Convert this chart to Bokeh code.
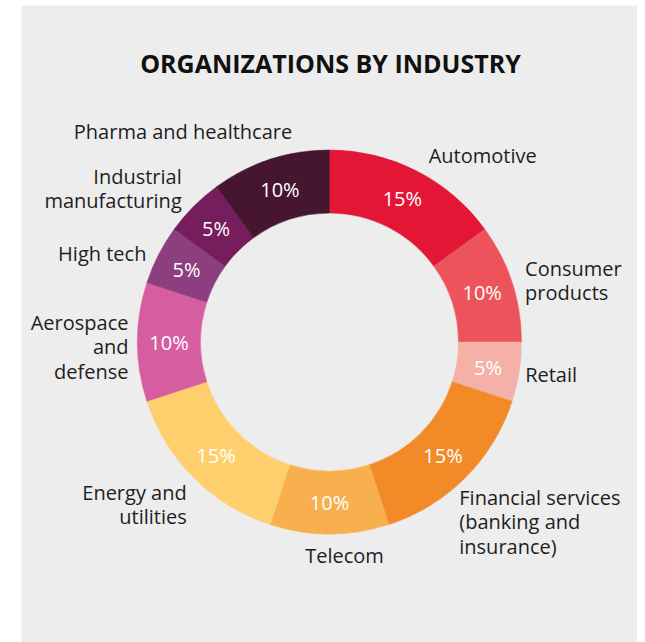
import numpy as np
from bokeh.plotting import figure
from bokeh.models import Range1d, ColumnDataSource
from bokeh.core.properties import value
from bokeh.embed import file_html
from bokeh.resources import INLINE

# ---- data ----
categories = ["Automotive", "Consumer\nproducts", "Retail",
              "Financial services\n(banking and\ninsurance)", "Telecom",
              "Energy and\nutilities", "Aerospace\nand\ndefense", "High tech",
              "Industrial\nmanufacturing", "Pharma and healthcare"]
shares = [15, 10, 5, 15, 10, 15, 10, 5, 5, 10]
pct_labels = ["15%", "10%", "5%", "15%", "10%", "15%", "10%", "5%", "5%", "10%"]
title_text = "ORGANIZATIONS BY INDUSTRY"

# ---- styles / layout ----
colors = ["#E31636", "#EC535A", "#F5B1A7", "#F18A27", "#F7B04D",
          "#FFCF6E", "#D55DA0", "#8C3E7E", "#761E5D", "#46152F"]
# label offsets from the outer-edge point at each slice's mid angle (page px: dx right, dy down)
label_dx = [12, 13, 6, -6, 15, -7, -9, -12, -12, 22]
label_dy = [-15, -2, 2, 44, 21, 27, 5, -1, -18, -28]
label_align = ["left", "left", "left", "left", "center", "right", "right", "right", "right", "right"]

FONT = "Open Sans"
W, H = 637, 642
LEFT, TOP = 21, 5
cx, cy = 329.0, -341.5     # data coords: x = page x, y = -page y
R_OUT, R_IN = 192.0, 129.0

p = figure(width=W, height=H, output_backend="svg", toolbar_location=None,
           x_range=Range1d(LEFT, W), y_range=Range1d(-H, -TOP),
           min_border_left=LEFT, min_border_right=0, min_border_top=TOP, min_border_bottom=0)
p.axis.visible = False
p.grid.visible = False
p.outline_line_color = None
p.background_fill_color = "#EDEDED"
p.border_fill_color = "white"

vals = np.array(shares, dtype=float)
frac = vals / vals.sum()
cum = np.concatenate([[0], np.cumsum(frac)])
start = np.pi / 2 - 2 * np.pi * cum[:-1]
end = np.pi / 2 - 2 * np.pi * cum[1:]
mid = (start + end) / 2

src = ColumnDataSource(dict(start=start, end=end, color=colors, cat=categories))
p.annular_wedge(x=cx, y=cy, inner_radius=R_IN, outer_radius=R_OUT,
                start_angle="start", end_angle="end", direction="clock",
                fill_color="color", line_color="color", line_width=0.5, source=src)

r_mid = (R_IN + R_OUT) / 2
p.text(x=cx + r_mid * np.cos(mid), y=cy + r_mid * np.sin(mid), text=pct_labels,
       text_font=value(FONT), text_font_size="20px", text_color="white",
       text_align="center", text_baseline="middle")

ax = cx + R_OUT * np.cos(mid) + np.array(label_dx)
ay = cy + R_OUT * np.sin(mid) - np.array(label_dy)
lsrc = ColumnDataSource(dict(x=ax, y=ay, t=categories, a=label_align))
p.text(x="x", y="y", text="t", text_align="a", source=lsrc,
       text_font=value(FONT), text_font_size="20px", text_color="#1E1E1E",
       text_baseline="middle", text_line_height=0.9)

p.text(x=[330], y=[-62], text=[title_text], text_font=value(FONT),
       text_font_size="25px", text_font_style="bold", text_color="#111111",
       text_align="center", text_baseline="middle")

open("out.html", "w").write(file_html(p, INLINE))
